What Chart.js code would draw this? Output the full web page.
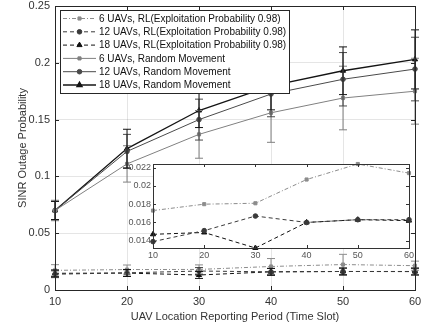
<!DOCTYPE html>
<html>
<head>
<meta charset="utf-8">
<script src="https://cdn.jsdelivr.net/npm/chart.js@4.4.0/dist/chart.umd.min.js"></script>
<style>
  body { margin: 0; background: #fff; }
  #wrap { position: relative; width: 421px; height: 326px; }
  #main { position: absolute; left: 0; top: 0; }
  #inset { position: absolute; left: 100px; top: 158px; }
</style>
</head>
<body>
<div id="wrap">
  <canvas id="main" width="421" height="326"></canvas>
  <canvas id="inset" width="321" height="110"></canvas>
</div>
<script>
// data
const periods = [10, 20, 30, 40, 50, 60];
const yTicks = [0, 0.05, 0.1, 0.15, 0.2, 0.25];
const insetTicks = [0.014, 0.016, 0.018, 0.02, 0.022];
const seriesNames = [
  '6 UAVs, RL(Exploitation Probability 0.98)',
  '12 UAVs, RL(Exploitation Probability 0.98)',
  '18 UAVs, RL(Exploitation Probability 0.98)',
  '6 UAVs, Random Movement',
  '12 UAVs, Random Movement',
  '18 UAVs, Random Movement'
];
const rl6 = [0.0173, 0.0180, 0.0181, 0.0207, 0.0224, 0.0214];
const rl12 = [0.0139, 0.0151, 0.0167, 0.0160, 0.0163, 0.0163];
const rl18 = [0.0147, 0.0149, 0.0132, 0.0160, 0.0163, 0.0162];
const rand6 = [0.070, 0.111, 0.137, 0.156, 0.169, 0.175];
const rand12 = [0.070, 0.122, 0.150, 0.1725, 0.1855, 0.1945];
const rand18 = [0.070, 0.1245, 0.158, 0.1796, 0.193, 0.203];
const errRl6 = [0.005, 0.004, 0.004, 0.007, 0.009, 0.004];
const errRl12 = [0.003, 0.003, 0.003, 0.003, 0.003, 0.003];
const errRl18 = [0.003, 0.003, 0.003, 0.003, 0.003, 0.003];
const errRand6 = [0.009, 0.016, 0.021, 0.026, 0.028, 0.029];
const errRand12 = [0.008, 0.015, 0.018, 0.020, 0.0235, 0.028];
const errRand18 = [0.008, 0.017, 0.015, 0.021, 0.021, 0.026];

const pts = (vals) => periods.map((p, i) => ({ x: p, y: vals[i] }));

const styles = [
  { color: '#8c8c8c', dash: [4, 2, 1, 2], point: 'rect', r: 2.2 },
  { color: '#3a3a3a', dash: [4, 3], point: 'circle', r: 2.3 },
  { color: '#111111', dash: [4, 3], point: 'triangle', r: 3 },
  { color: '#808080', dash: [], point: 'rect', r: 2.2 },
  { color: '#4a4a4a', dash: [], point: 'circle', r: 2.3 },
  { color: '#141414', dash: [], point: 'triangle', r: 3 }
];

const mkSet = (k, vals, errs) => ({
  label: seriesNames[k],
  data: pts(vals),
  errors: errs,
  borderColor: styles[k].color,
  backgroundColor: styles[k].color,
  borderDash: styles[k].dash,
  borderWidth: k === 5 ? 1.3 : 1,
  pointStyle: styles[k].point,
  pointRadius: styles[k].r,
  pointBorderWidth: 1,
  pointBackgroundColor: styles[k].color,
  tension: 0,
  clip: false
});

const errorBars = {
  id: 'errorBars',
  afterDatasetsDraw(chart) {
    const { ctx, scales: { y } } = chart;
    chart.data.datasets.forEach((ds, i) => {
      if (!ds.errors) return;
      const meta = chart.getDatasetMeta(i);
      ctx.save();
      ctx.strokeStyle = ds.borderColor;
      ctx.lineWidth = 1;
      ctx.setLineDash([]);
      meta.data.forEach((pt, j) => {
        const v = ds.data[j].y, e = ds.errors[j];
        const top = y.getPixelForValue(v + e), bot = y.getPixelForValue(v - e);
        ctx.beginPath();
        ctx.moveTo(pt.x, top); ctx.lineTo(pt.x, bot);
        ctx.moveTo(pt.x - 4, top); ctx.lineTo(pt.x + 4, top);
        ctx.moveTo(pt.x - 4, bot); ctx.lineTo(pt.x + 4, bot);
        ctx.stroke();
      });
      ctx.restore();
    });
  }
};

// box round the axes with inward ticks, like matlab
const frame = {
  id: 'frame',
  afterDraw(chart, args, opts) {
    const { ctx, chartArea: a, scales: { x, y } } = chart;
    const len = opts.len || 4;
    ctx.save();
    ctx.strokeStyle = opts.color || '#262626';
    ctx.lineWidth = 1;
    ctx.strokeRect(a.left + 0.5, a.top + 0.5, a.right - a.left, a.bottom - a.top);
    ctx.beginPath();
    x.ticks.forEach(t => {
      const px = Math.round(x.getPixelForValue(t.value)) + 0.5;
      ctx.moveTo(px, a.bottom); ctx.lineTo(px, a.bottom - len);
      ctx.moveTo(px, a.top); ctx.lineTo(px, a.top + len);
    });
    y.ticks.forEach(t => {
      const py = Math.round(y.getPixelForValue(t.value)) + 0.5;
      ctx.moveTo(a.left, py); ctx.lineTo(a.left + len, py);
      ctx.moveTo(a.right, py); ctx.lineTo(a.right - len, py);
    });
    ctx.stroke();
    ctx.restore();
  }
};

const boxLegend = {
  id: 'boxLegend',
  afterDraw(chart) {
    const { ctx, chartArea: a } = chart;
    const x0 = a.left + 5, y0 = a.top + 4, w = 229, h = 83, row = 13.3;
    ctx.save();
    ctx.fillStyle = '#fff';
    ctx.fillRect(x0, y0, w, h);
    ctx.strokeStyle = '#262626';
    ctx.lineWidth = 1;
    ctx.strokeRect(x0 + 0.5, y0 + 0.5, w, h);
    ctx.font = '10px "Liberation Sans", Arial, sans-serif';
    ctx.textBaseline = 'middle';
    chart.data.datasets.forEach((ds, i) => {
      const cy = y0 + 8.5 + i * row;
      ctx.strokeStyle = ds.borderColor;
      ctx.setLineDash(ds.borderDash);
      ctx.lineWidth = ds.borderWidth;
      ctx.beginPath();
      ctx.moveTo(x0 + 3, cy); ctx.lineTo(x0 + 36, cy);
      ctx.stroke();
      ctx.setLineDash([]);
      ctx.fillStyle = ds.borderColor;
      Chart.helpers.drawPoint(ctx, { pointStyle: ds.pointStyle, radius: ds.pointRadius, rotation: 0, borderWidth: 1 }, x0 + 19.5, cy);
      ctx.fillStyle = '#111';
      ctx.fillText(ds.label, x0 + 39, cy + 0.5);
    });
    ctx.restore();
  }
};

// drop the label overhang so layout.padding alone places the plot box
const fixX = (h) => (s) => { s.height = h; s.paddingLeft = 0; s.paddingRight = 0; };
const fixY = (w) => (s) => { s.width = w; s.paddingTop = 0; s.paddingBottom = 0; };

const tickFont = { family: '"Liberation Sans", Arial, sans-serif', size: 11 };

new Chart(document.getElementById('main'), {
  type: 'line',
  data: {
    datasets: [
      mkSet(0, rl6, errRl6), mkSet(1, rl12, errRl12), mkSet(2, rl18, errRl18),
      mkSet(3, rand6, errRand6), mkSet(4, rand12, errRand12), mkSet(5, rand18, errRand18)
    ]
  },
  options: {
    responsive: false,
    animation: false,
    layout: { padding: { top: 6, right: 6, left: 0, bottom: 0 } },
    plugins: { legend: { display: false }, tooltip: { enabled: false }, frame: { len: 4 } },
    scales: {
      x: {
        type: 'linear', min: 10, max: 60,
        afterBuildTicks: s => { s.ticks = periods.map(v => ({ value: v })); },
        afterFit: fixX(36),
        grid: { color: 'rgba(38,38,38,0.12)', drawTicks: false },
        border: { display: false },
        ticks: { color: '#333', font: tickFont, padding: 5, maxRotation: 0 },
        title: { display: true, text: 'UAV Location Reporting Period (Time Slot)', color: '#333', font: tickFont, padding: { top: 2, bottom: 2 } }
      },
      y: {
        min: 0, max: 0.25,
        afterBuildTicks: s => { s.ticks = yTicks.map(v => ({ value: v })); },
        afterFit: fixY(55),
        grid: { color: 'rgba(38,38,38,0.12)', drawTicks: false },
        border: { display: false },
        ticks: { color: '#333', font: tickFont, padding: 5, callback: v => String(v) },
        title: { display: true, text: 'SINR Outage Probability', color: '#333', font: tickFont, padding: { top: 16, bottom: 0 } }
      }
    }
  },
  plugins: [errorBars, frame, boxLegend]
});

const whiteBg = {
  id: 'whiteBg',
  beforeDraw(chart) {
    const { ctx, chartArea: a } = chart;
    ctx.save();
    ctx.fillStyle = '#fff';
    ctx.fillRect(a.left, a.top, a.right - a.left, a.bottom - a.top);
    ctx.restore();
  }
};

const smallFont = { family: '"Liberation Sans", Arial, sans-serif', size: 9 };

new Chart(document.getElementById('inset'), {
  type: 'line',
  data: {
    datasets: [mkSet(0, rl6), mkSet(1, rl12), mkSet(2, rl18)]
  },
  options: {
    responsive: false,
    animation: false,
    layout: { padding: { top: 6, right: 12, left: 0, bottom: 0 } },
    plugins: { legend: { display: false }, tooltip: { enabled: false }, frame: { len: 3, color: '#333' } },
    scales: {
      x: {
        type: 'linear', min: 10, max: 60,
        afterBuildTicks: s => { s.ticks = periods.map(v => ({ value: v })); },
        afterFit: fixX(20),
        grid: { display: false, drawTicks: false },
        border: { display: false },
        ticks: { color: '#555', font: smallFont, padding: 2, maxRotation: 0 }
      },
      y: {
        min: 0.0132, max: 0.0224,
        afterBuildTicks: s => { s.ticks = insetTicks.map(v => ({ value: v })); },
        afterFit: fixY(53),
        grid: { display: false, drawTicks: false },
        border: { display: false },
        ticks: { color: '#555', font: smallFont, padding: 2, callback: v => String(+v.toFixed(3)) }
      }
    }
  },
  plugins: [whiteBg, frame]
});
</script>
</body>
</html>
